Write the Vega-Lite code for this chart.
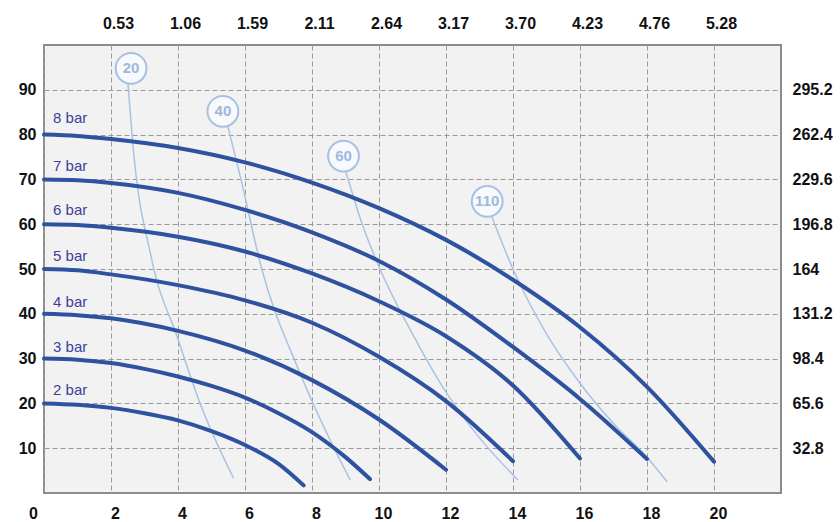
{
  "$schema": "https://vega.github.io/schema/vega-lite/v6.json",
  "width": 737,
  "height": 448,
  "autosize": "none",
  "padding": {"left": 44, "top": 45, "right": 59, "bottom": 29},
  "background": "white",
  "config": {
    "view": {"stroke": "#8c8c8c", "strokeWidth": 2, "fill": "#f2f2f2"},
    "font": "Liberation Sans"
  },
  "datasets": {
    "curves": [
      {"series": "8 bar", "q": 0, "h": 80}, {"series": "8 bar", "q": 1, "h": 79.7}, {"series": "8 bar", "q": 2, "h": 79}, {"series": "8 bar", "q": 4, "h": 77}, {"series": "8 bar", "q": 6, "h": 73.8}, {"series": "8 bar", "q": 8, "h": 69.3}, {"series": "8 bar", "q": 10, "h": 63.6}, {"series": "8 bar", "q": 12, "h": 56.5}, {"series": "8 bar", "q": 14, "h": 47.6}, {"series": "8 bar", "q": 16, "h": 37}, {"series": "8 bar", "q": 18, "h": 23.7}, {"series": "8 bar", "q": 20, "h": 7},
      {"series": "7 bar", "q": 0, "h": 70}, {"series": "7 bar", "q": 1, "h": 69.8}, {"series": "7 bar", "q": 2, "h": 69.2}, {"series": "7 bar", "q": 4, "h": 67}, {"series": "7 bar", "q": 6, "h": 63.2}, {"series": "7 bar", "q": 8, "h": 58.2}, {"series": "7 bar", "q": 10, "h": 51.8}, {"series": "7 bar", "q": 12, "h": 43.2}, {"series": "7 bar", "q": 14, "h": 32.6}, {"series": "7 bar", "q": 16, "h": 21}, {"series": "7 bar", "q": 18, "h": 7.6},
      {"series": "6 bar", "q": 0, "h": 60}, {"series": "6 bar", "q": 1, "h": 59.8}, {"series": "6 bar", "q": 2, "h": 59.2}, {"series": "6 bar", "q": 4, "h": 57.2}, {"series": "6 bar", "q": 6, "h": 53.9}, {"series": "6 bar", "q": 8, "h": 49}, {"series": "6 bar", "q": 10, "h": 42.8}, {"series": "6 bar", "q": 12, "h": 35}, {"series": "6 bar", "q": 14, "h": 24}, {"series": "6 bar", "q": 16, "h": 7.7},
      {"series": "5 bar", "q": 0, "h": 50}, {"series": "5 bar", "q": 1, "h": 49.7}, {"series": "5 bar", "q": 2, "h": 48.8}, {"series": "5 bar", "q": 4, "h": 46.4}, {"series": "5 bar", "q": 6, "h": 43}, {"series": "5 bar", "q": 8, "h": 38}, {"series": "5 bar", "q": 10, "h": 30.4}, {"series": "5 bar", "q": 12, "h": 20.5}, {"series": "5 bar", "q": 14, "h": 7.1},
      {"series": "4 bar", "q": 0, "h": 40}, {"series": "4 bar", "q": 1, "h": 39.7}, {"series": "4 bar", "q": 2, "h": 39}, {"series": "4 bar", "q": 4, "h": 36.2}, {"series": "4 bar", "q": 6, "h": 31.8}, {"series": "4 bar", "q": 8, "h": 25.2}, {"series": "4 bar", "q": 10, "h": 16.4}, {"series": "4 bar", "q": 12, "h": 5.2},
      {"series": "3 bar", "q": 0, "h": 30}, {"series": "3 bar", "q": 1, "h": 29.75}, {"series": "3 bar", "q": 2, "h": 29}, {"series": "3 bar", "q": 3, "h": 27.7}, {"series": "3 bar", "q": 4, "h": 26}, {"series": "3 bar", "q": 5, "h": 23.9}, {"series": "3 bar", "q": 6, "h": 21.3}, {"series": "3 bar", "q": 7, "h": 17.8}, {"series": "3 bar", "q": 8, "h": 13.6}, {"series": "3 bar", "q": 9, "h": 8}, {"series": "3 bar", "q": 9.73, "h": 3.1},
      {"series": "2 bar", "q": 0, "h": 20}, {"series": "2 bar", "q": 1, "h": 19.7}, {"series": "2 bar", "q": 2, "h": 19}, {"series": "2 bar", "q": 3, "h": 17.8}, {"series": "2 bar", "q": 4, "h": 16.2}, {"series": "2 bar", "q": 5, "h": 13.8}, {"series": "2 bar", "q": 6, "h": 10.7}, {"series": "2 bar", "q": 7, "h": 6.5}, {"series": "2 bar", "q": 7.75, "h": 1.7}
    ],
    "lines": [
      {"line": "20", "q": 2.5, "h": 92}, {"line": "20", "q": 2.64, "h": 78.8}, {"line": "20", "q": 3.22, "h": 52}, {"line": "20", "q": 3.97, "h": 35}, {"line": "20", "q": 4.66, "h": 20}, {"line": "20", "q": 5.66, "h": 3.3},
      {"line": "40", "q": 5.45, "h": 83}, {"line": "40", "q": 5.88, "h": 70}, {"line": "40", "q": 6.5, "h": 50}, {"line": "40", "q": 7.6, "h": 27.5}, {"line": "40", "q": 8.49, "h": 12.6}, {"line": "40", "q": 9.14, "h": 2.9},
      {"line": "60", "q": 9.0, "h": 72}, {"line": "60", "q": 9.5, "h": 60}, {"line": "60", "q": 10, "h": 50.5}, {"line": "60", "q": 11, "h": 35.5}, {"line": "60", "q": 12, "h": 22.5}, {"line": "60", "q": 13, "h": 12.3}, {"line": "60", "q": 14.15, "h": 2.9},
      {"line": "110", "q": 13.35, "h": 62}, {"line": "110", "q": 14, "h": 50}, {"line": "110", "q": 15, "h": 35.5}, {"line": "110", "q": 16, "h": 24.5}, {"line": "110", "q": 17, "h": 15.5}, {"line": "110", "q": 18, "h": 8}, {"line": "110", "q": 18.6, "h": 2.5}
    ],
    "circles": [
      {"label": "20", "q": 2.6, "h": 94.8},
      {"label": "40", "q": 5.34, "h": 85.2},
      {"label": "60", "q": 8.94, "h": 75.2},
      {"label": "110", "q": 13.23, "h": 65.1}
    ],
    "labels": [
      {"text": "8 bar", "q": 0.27, "h": 83.8},
      {"text": "7 bar", "q": 0.27, "h": 73.1},
      {"text": "6 bar", "q": 0.27, "h": 63.1},
      {"text": "5 bar", "q": 0.27, "h": 52.8},
      {"text": "4 bar", "q": 0.27, "h": 42.6},
      {"text": "3 bar", "q": 0.27, "h": 32.7},
      {"text": "2 bar", "q": 0.27, "h": 23}
    ]
  },
  "resolve": {"axis": {"x": "independent", "y": "independent"}},
  "layer": [
    {
      "data": {"name": "lines"},
      "mark": {"type": "line", "color": "#a9c2e4", "strokeWidth": 1.5, "interpolate": "monotone"},
      "encoding": {
        "x": {"field": "q", "type": "quantitative", "scale": {"domain": [0, 22], "nice": false, "zero": false},
          "axis": {"orient": "bottom", "values": [0, 2, 4, 6, 8, 10, 12, 14, 16, 18, 20], "title": null, "grid": true, "gridDash": [5, 3], "gridColor": "#9a9a9a", "gridWidth": 1, "domain": false, "ticks": false, "labelFont": "Liberation Sans", "labelFontSize": 16, "labelFontWeight": "bold", "labelColor": "#111111", "labelPadding": 12, "labelFlush": false, "labelOffset": {"condition": {"test": "datum.value == 0", "value": -11}, "value": 4}}},
        "y": {"field": "h", "type": "quantitative", "scale": {"domain": [0, 100], "nice": false, "zero": true},
          "axis": {"orient": "left", "values": [10, 20, 30, 40, 50, 60, 70, 80, 90], "title": null, "grid": true, "gridDash": [5, 3], "gridColor": "#9a9a9a", "gridWidth": 1, "domain": false, "ticks": false, "labelFont": "Liberation Sans", "labelFontSize": 16, "labelFontWeight": "bold", "labelColor": "#111111", "labelPadding": 8}},
        "detail": {"field": "line"}
      }
    },
    {
      "data": {"name": "curves"},
      "mark": {"type": "line", "color": "#2e52a0", "strokeWidth": 4, "interpolate": "monotone", "strokeCap": "round"},
      "encoding": {
        "x": {"field": "q", "type": "quantitative",
          "axis": {"orient": "top", "values": [2, 4, 6, 8, 10, 12, 14, 16, 18, 20], "labelExpr": "format(datum.value * 0.264172, '.2f')", "title": null, "grid": false, "domain": false, "ticks": false, "labelFont": "Liberation Sans", "labelFontSize": 16, "labelFontWeight": "bold", "labelColor": "#111111", "labelPadding": 14, "labelOffset": 7, "labelFlush": false}},
        "y": {"field": "h", "type": "quantitative",
          "axis": {"orient": "right", "values": [10, 20, 30, 40, 50, 60, 70, 80, 90], "labelExpr": "format(datum.value * 3.28, '.1~f')", "title": null, "grid": false, "domain": false, "ticks": false, "labelFont": "Liberation Sans", "labelFontSize": 16, "labelFontWeight": "bold", "labelColor": "#111111", "labelPadding": 11}},
        "detail": {"field": "series"}
      }
    },
    {
      "data": {"name": "circles"},
      "mark": {"type": "point", "shape": "circle", "size": 950, "filled": true, "fill": "#f7f9fd", "stroke": "#a8c0e2", "strokeWidth": 2, "opacity": 1},
      "encoding": {
        "x": {"field": "q", "type": "quantitative", "axis": null},
        "y": {"field": "h", "type": "quantitative", "axis": null}
      }
    },
    {
      "data": {"name": "circles"},
      "mark": {"type": "text", "color": "#9fb8dc", "fontSize": 15, "fontWeight": "bold", "font": "Liberation Sans", "align": "center", "baseline": "middle"},
      "encoding": {
        "x": {"field": "q", "type": "quantitative", "axis": null},
        "y": {"field": "h", "type": "quantitative", "axis": null},
        "text": {"field": "label"}
      }
    },
    {
      "data": {"name": "labels"},
      "mark": {"type": "text", "color": "#3d4299", "fontSize": 15, "font": "Liberation Sans", "align": "left", "baseline": "middle"},
      "encoding": {
        "x": {"field": "q", "type": "quantitative", "axis": null},
        "y": {"field": "h", "type": "quantitative", "axis": null},
        "text": {"field": "text"}
      }
    }
  ]
}
